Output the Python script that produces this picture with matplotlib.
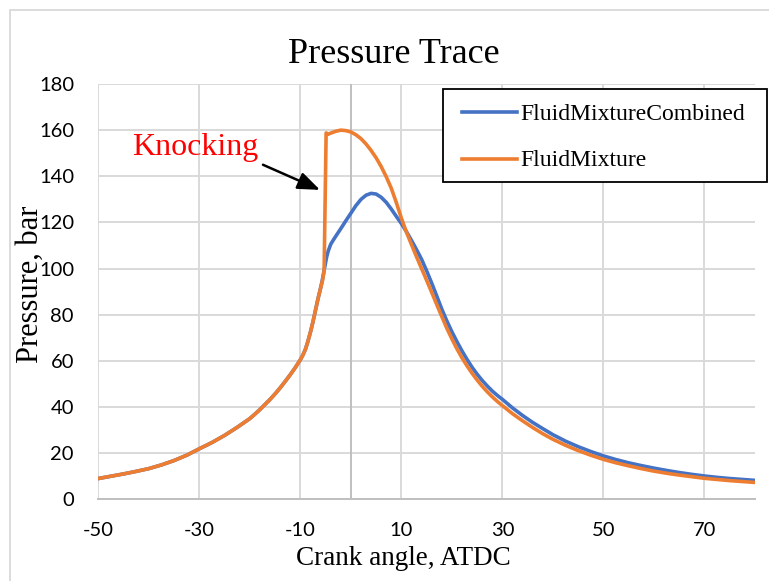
import matplotlib
matplotlib.use("Agg")
import matplotlib.pyplot as plt
from matplotlib.patches import Rectangle
from matplotlib.lines import Line2D

plt.rcParams["axes.unicode_minus"] = False

# crank angle (deg ATDC) and cylinder pressure (bar)
combined_angle = [-50, -47.5, -45, -42.5, -40, -37.5, -35, -32.5, -30, -27.5, -25, -22.5, -20,
                  -19, -18, -17, -16, -15, -14, -13, -12, -11, -10, -9.5, -9, -8.5, -8, -7.5, -7,
                  -6.5, -6, -5.7, -5.4, -5.1, -4.8, -4.5, -4, -3.5, -3, -2, -1, 0, 1, 2, 3, 4, 5,
                  6, 7, 8, 9, 10, 11, 12, 13, 14, 15, 16, 17, 18, 19, 20, 21, 22, 23, 24, 25, 26,
                  27, 28, 29, 30, 32, 34, 36, 38, 40, 42.5, 45, 47.5, 50, 52.5, 55, 57.5, 60,
                  62.5, 65, 67.5, 70, 72.5, 75, 77.5, 80]
combined_p = [9.0, 10.0, 11.0, 12.1, 13.3, 14.9, 16.8, 19.1, 21.9, 24.6, 27.7, 31.2, 35.0,
              36.9, 38.9, 41.1, 43.3, 45.7, 48.3, 51.1, 54.0, 57.1, 60.5, 62.5, 65.0, 68.5, 72.5,
              77.0, 82.0, 87.0, 91.5, 94.5, 98.0, 101.5, 105.0, 107.5, 110.5, 112.3, 114.0,
              117.3, 120.7, 124.0, 127.3, 130.0, 131.8, 132.6, 132.3, 130.9, 128.7, 125.8, 122.6,
              119.5, 116.0, 112.2, 108.2, 104.0, 99.0, 93.7, 88.1, 82.4, 77.3, 72.6, 68.3, 64.3,
              60.6, 57.2, 54.2, 51.5, 49.1, 46.9, 45.0, 43.3, 39.6, 36.3, 33.3, 30.6, 28.0, 25.2,
              22.8, 20.7, 18.8, 17.2, 15.8, 14.6, 13.5, 12.5, 11.6, 10.8, 10.1, 9.5, 9.0, 8.6, 8.2]

mixture_angle = [-50, -47.5, -45, -42.5, -40, -37.5, -35, -32.5, -30, -27.5, -25, -22.5, -20,
                 -19, -18, -17, -16, -15, -14, -13, -12, -11, -10, -9.5, -9, -8.5, -8, -7.5, -7,
                 -6.5, -6, -5.6, -5.3, -4.9, -4.5, -4, -3, -2, -1, 0, 1, 2, 3, 4, 5, 6, 7, 8, 9,
                 10, 11, 12, 13, 14, 15, 16, 17, 18, 19, 20, 21, 22, 23, 24, 25, 26, 27, 28, 29,
                 30, 32, 34, 36, 38, 40, 42.5, 45, 47.5, 50, 52.5, 55, 57.5, 60, 62.5, 65, 67.5,
                 70, 72.5, 75, 77.5, 80]
mixture_p = [9.0, 10.0, 11.0, 12.1, 13.3, 14.9, 16.8, 19.1, 21.9, 24.6, 27.7, 31.2, 35.0,
             36.9, 38.9, 41.1, 43.3, 45.7, 48.3, 51.1, 54.0, 57.1, 60.5, 62.5, 65.0, 68.5, 72.5,
             77.0, 82.0, 87.0, 91.5, 95.0, 99.0, 158.8, 158.2, 158.7, 159.5, 160.0, 159.8, 159.2,
             158.0, 156.3, 154.0, 151.2, 148.0, 144.2, 139.8, 134.8, 128.6, 121.8, 115.8, 110.4,
             105.1, 100.0, 94.9, 89.7, 84.4, 79.2, 74.1, 69.5, 65.2, 61.3, 57.8, 54.6, 51.7,
             49.0, 46.6, 44.4, 42.4, 40.6, 37.1, 34.0, 31.1, 28.4, 26.0, 23.4, 21.1, 19.1, 17.3,
             15.8, 14.5, 13.3, 12.2, 11.3, 10.5, 9.8, 9.1, 8.6, 8.1, 7.7, 7.3]

x_ticks = [-50, -30, -10, 10, 30, 50, 70]
y_ticks = [0, 20, 40, 60, 80, 100, 120, 140, 160, 180]

serif = "Liberation Serif"
W, H = 769, 581
blue, orange = "#4472C4", "#ED7D31"


def fx(px):
    return px / W


def fy(py):
    return 1 - py / H


fig = plt.figure(figsize=(W / 100, H / 100), dpi=100)
ax = fig.add_axes([fx(98.3), fy(499.3), (755 - 98.3) / W, (499.3 - 84) / H])

# chart area border
fig.add_artist(Rectangle((fx(10), -0.1), 1.2, fy(10) + 0.1, transform=fig.transFigure,
                         fill=False, edgecolor="#d9d9d9", lw=1.3))

ax.plot(combined_angle, combined_p, color=blue, lw=2.6, solid_joinstyle="round", zorder=3)
ax.plot(mixture_angle, mixture_p, color=orange, lw=2.6, solid_joinstyle="round", zorder=4)

ax.set_xlim(-50, 80)
ax.set_ylim(0, 180)
ax.set_xticks(x_ticks)
ax.set_yticks(y_ticks)
ax.grid(True, color="#d9d9d9", lw=1.4)
ax.set_axisbelow(True)
ax.axvline(0, color="#bfbfbf", lw=1.4, zorder=1)
for s in ["top", "right", "left"]:
    ax.spines[s].set_visible(False)
ax.spines["bottom"].set_color("#bfbfbf")
ax.spines["bottom"].set_linewidth(1.4)
ax.tick_params(axis="both", length=0, labelsize=14.5)
ax.tick_params(axis="y", pad=17.5)
ax.tick_params(axis="x", pad=16)
for lab in ax.get_xticklabels() + ax.get_yticklabels():
    lab.set_fontfamily("Lato")

fig.text(fx(394), fy(62.7), "Pressure Trace", family=serif, fontsize=26,
         ha="center", va="baseline")
ax.set_xlabel("Crank angle, ATDC", family=serif, fontsize=19.5, va="baseline")
ax.xaxis.set_label_coords(0.464, -(565 - 499.3) / 415.3)
ax.set_ylabel("Pressure, bar", family=serif, fontsize=22, va="center")
ax.yaxis.set_label_coords(-(98.3 - 30.5) / 656.7, (499.3 - 284) / 415.3)

ax.text(-43.3, 149.3, "Knocking", color="red", family=serif, fontsize=23, va="baseline")
ax.annotate("", xy=(-6.1, 134.1), xytext=(-17.4, 145),
            arrowprops=dict(arrowstyle="-|>,head_length=0.9,head_width=0.35", color="black",
                            lw=1.8, mutation_scale=15, shrinkA=0, shrinkB=0))

# legend box
fig.add_artist(Rectangle((fx(443.3), fy(181.7)), (766.7 - 443.3) / W, (181.7 - 89.3) / H,
                         transform=fig.transFigure, facecolor="white", edgecolor="black",
                         lw=1.3, zorder=5))
for name, col, ymid, ybase in [("FluidMixtureCombined", blue, 112.3, 120),
                               ("FluidMixture", orange, 159, 166)]:
    fig.add_artist(Line2D([fx(461.7), fx(516.7)], [fy(ymid), fy(ymid)], color=col, lw=2.6,
                          transform=fig.transFigure, zorder=6))
    fig.text(fx(520), fy(ybase), name, family=serif, fontsize=17, va="baseline", zorder=6)

fig.savefig("out.png", dpi=100)
